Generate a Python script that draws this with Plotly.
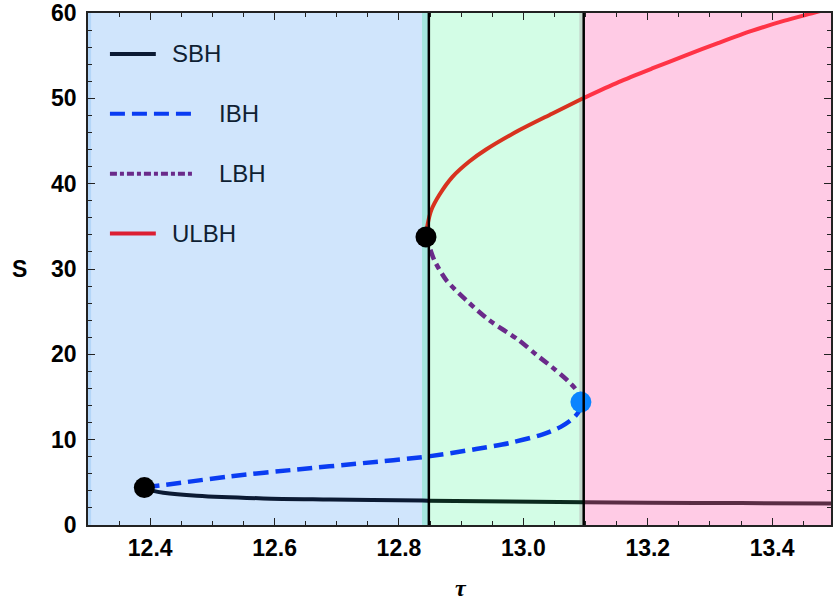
import plotly.graph_objects as go

# ---------------- data ----------------
sbh_tau = [12.3906, 12.405, 12.421, 12.475, 12.582, 12.689, 12.838, 12.847, 12.977, 13.096, 13.2, 13.35, 13.4946]
sbh_S   = [4.35, 4.00, 3.78, 3.43, 3.12, 3.00, 2.86, 2.85, 2.76, 2.68, 2.62, 2.57, 2.53]

ibh_tau = [12.3906, 12.45, 12.528, 12.635, 12.742, 12.843, 12.924, 12.977, 13.03, 13.06, 13.08, 13.09, 13.0925]
ibh_S   = [4.40, 4.95, 5.70, 6.50, 7.25, 8.00, 8.90, 9.60, 10.60, 11.50, 12.50, 13.40, 14.40]

lbh_tau = [13.0925, 13.089, 13.07, 13.046, 13.02, 12.993, 12.945, 12.908, 12.876, 12.857, 12.849, 12.8434]
lbh_S   = [14.40, 15.45, 17.00, 18.50, 20.00, 21.65, 24.00, 26.35, 28.70, 31.00, 32.55, 33.76]

ulbh_tau = [12.8434, 12.846, 12.852, 12.865, 12.886, 12.913, 12.94, 12.993, 13.046, 13.096, 13.153, 13.207, 13.26, 13.314, 13.367, 13.42, 13.471, 13.4946]
ulbh_S   = [33.76, 35.20, 36.90, 38.70, 40.80, 42.60, 44.00, 46.25, 48.20, 50.00, 51.90, 53.50, 55.00, 56.50, 57.90, 59.10, 60.10, 60.60]

turn_tau = [12.3906, 12.8434]
turn_S   = [4.38, 33.76]
crit_tau = [13.0925]
crit_S   = [14.4]

region_edges  = [12.3, 12.848, 13.097, 13.4946]
region_colors = ["#d0e5fc", "#d3fde6", "#ffcbe5"]
sbh_colors    = ["#0b1a33", "#0b2a1e", "#5a2d44"]
ulbh_colors   = ["#d8321f", "#ff3346"]

x_range = [12.3, 13.4946]
y_range = [0, 60]
x_ticks = [12.4, 12.6, 12.8, 13.0, 13.2, 13.4]
x_tick_labels = ["12.4", "12.6", "12.8", "13.0", "13.2", "13.4"]
y_ticks = [0, 10, 20, 30, 40, 50, 60]

legend_names = ["SBH", "IBH", "LBH", "ULBH"]

fig = go.Figure()

# ---------------- region backgrounds ----------------
shapes = []
for i, c in enumerate(region_colors):
    shapes.append(dict(type="rect", xref="x", yref="y", x0=region_edges[i], x1=region_edges[i + 1],
                       y0=y_range[0], y1=y_range[1], fillcolor=c, line=dict(width=0), layer="below"))
# rendering stripes near the boundaries
shapes.append(dict(type="rect", xref="x", yref="y", x0=region_edges[0], x1=region_edges[0] + 0.005,
                   y0=0, y1=60, fillcolor="#b4d6f8", line=dict(width=0), layer="below"))
shapes.append(dict(type="rect", xref="x", yref="y", x0=region_edges[1] - 0.011, x1=region_edges[1],
                   y0=0, y1=60, fillcolor="#a4e6df", line=dict(width=0), layer="below"))
shapes.append(dict(type="rect", xref="x", yref="y", x0=region_edges[2] - 0.007, x1=region_edges[2],
                   y0=0, y1=60, fillcolor="#c4d8cc", line=dict(width=0), layer="below"))


def split_at(tx, sy, edges):
    segs = []
    for i in range(len(edges) - 1):
        lo, hi = edges[i], edges[i + 1]
        pts = [(t, s) for t, s in zip(tx, sy) if lo - 1e-9 <= t <= hi + 1e-9]
        segs.append(([p[0] for p in pts], [p[1] for p in pts]))
    return segs


# SBH (solid, tinted per region)
sbh_edges = [12.3, 12.847, 13.096, 13.4946]
for (xs, ys), col in zip(split_at(sbh_tau, sbh_S, sbh_edges), sbh_colors):
    if len(xs) > 1:
        fig.add_trace(go.Scatter(x=xs, y=ys, mode="lines",
                                 line=dict(color=col, width=4, shape="spline", smoothing=0.8),
                                 showlegend=False, hoverinfo="skip"))

# IBH dashed
fig.add_trace(go.Scatter(x=ibh_tau, y=ibh_S, mode="lines",
                         line=dict(color="#0a3cf2", width=4.5, dash="15px,7px", shape="spline", smoothing=0.8),
                         showlegend=False))
# LBH dash-dot
fig.add_trace(go.Scatter(x=lbh_tau, y=lbh_S, mode="lines",
                         line=dict(color="#6a2a8a", width=4.5, dash="10px,5px,6px,5px", shape="spline", smoothing=0.8),
                         showlegend=False))
# ULBH
ulbh_edges = [12.3, 13.096, 13.4946]
for (xs, ys), col in zip(split_at(ulbh_tau, ulbh_S, ulbh_edges), ulbh_colors):
    if len(xs) > 1:
        fig.add_trace(go.Scatter(x=xs, y=ys, mode="lines",
                                 line=dict(color=col, width=4, shape="spline", smoothing=0.8),
                                 showlegend=False))

# vertical boundary lines
for xv in region_edges[1:3]:
    shapes.append(dict(type="line", xref="x", yref="y", x0=xv, x1=xv, y0=0, y1=60,
                       line=dict(color="#000000", width=2.5), layer="above"))

# markers
fig.add_trace(go.Scatter(x=turn_tau, y=turn_S, mode="markers",
                         marker=dict(color="#000000", size=21), showlegend=False))
fig.add_trace(go.Scatter(x=crit_tau, y=crit_S, mode="markers",
                         marker=dict(color="#0a84ff", size=21), showlegend=False))

# ---------------- manual legend ----------------
plot_l, plot_r, plot_t, plot_b = 88, 833, 12, 525
def px(xp):
    return (xp - plot_l) / (plot_r - plot_l)
def py(yp):
    return (plot_b - yp) / (plot_b - plot_t)

legend_styles = [
    dict(color="#0b1a33", dash="solid", x1=156, tx=170, y=53),
    dict(color="#0a3cf2", dash="15px,7px", x1=198, tx=217, y=113),
    dict(color="#6a2a8a", dash="7px,3px,4px,3px", x1=195, tx=217, y=173),
    dict(color="#dc1e32", dash="solid", x1=156, tx=170, y=233),
]
annotations = []
for name, st in zip(legend_names, legend_styles):
    shapes.append(dict(type="line", xref="paper", yref="paper", x0=px(110), x1=px(st["x1"]),
                       y0=py(st["y"]), y1=py(st["y"]),
                       line=dict(color=st["color"], width=4, dash=st["dash"]), layer="above"))
    annotations.append(dict(xref="paper", yref="paper", x=px(st["tx"]), y=py(st["y"]),
                            text=name, showarrow=False, xanchor="left", yanchor="middle",
                            font=dict(family="Liberation Sans, Arial", size=24, color="#0f1f33")))

# axis titles
annotations.append(dict(xref="paper", yref="paper", x=px(19), y=py(269), text="<b>S</b>",
                        showarrow=False, xanchor="center", yanchor="middle",
                        font=dict(family="Liberation Sans, Arial", size=23, color="#000000")))
annotations.append(dict(xref="paper", yref="paper", x=px(462), y=py(588), text="<b><i>τ</i></b>",
                        showarrow=False, xanchor="center", yanchor="middle",
                        font=dict(family="Liberation Serif, Times New Roman", size=24, color="#000000")))

tick_font = dict(family="Liberation Sans, Arial", size=23, color="#000000", weight=700)

fig.update_layout(
    width=833, height=601,
    margin=dict(l=88, r=0, t=12, b=76, pad=0),
    paper_bgcolor="white", plot_bgcolor="white",
    shapes=shapes, annotations=annotations,
    showlegend=False,
    xaxis=dict(range=x_range, tickvals=x_ticks, ticktext=x_tick_labels, showgrid=False, zeroline=False,
               ticks="inside", ticklen=7, tickwidth=1.2, tickcolor="#222222",
               showline=True, linecolor="#222222", linewidth=1.5, mirror="allticks",
               tickfont=tick_font, ticklabelstandoff=2, ticklabeloverflow="allow",
               minor=dict(dtick=0.05, tick0=12.3, ticks="inside", ticklen=4, tickcolor="#222222", tickwidth=1)),
    yaxis=dict(range=y_range, tickvals=y_ticks, showgrid=False, zeroline=False,
               ticks="inside", ticklen=7, tickwidth=1.2, tickcolor="#222222",
               showline=True, linecolor="#222222", linewidth=1.5, mirror="allticks",
               tickfont=tick_font, ticklabelstandoff=5, ticklabeloverflow="allow",
               minor=dict(dtick=2, tick0=0, ticks="inside", ticklen=4, tickcolor="#222222", tickwidth=1)),
)

fig.write_html("out.html")
